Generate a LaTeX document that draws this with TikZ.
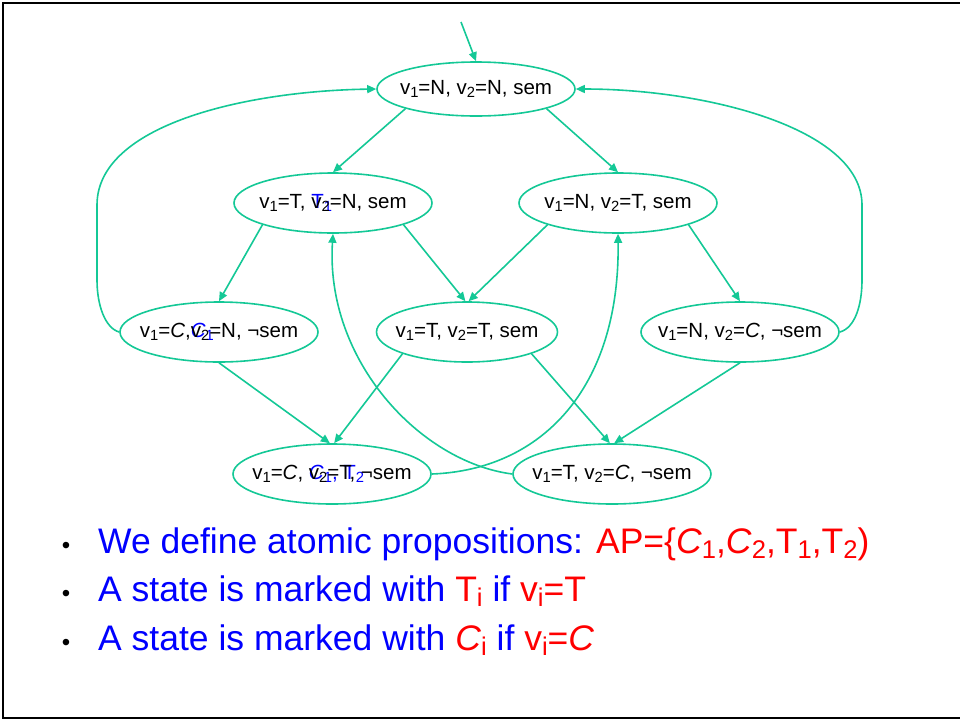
\documentclass[tikz,border=0pt]{standalone}
\usepackage{fontspec}
\setmainfont{Liberation Sans}
\usetikzlibrary{shapes.geometric,arrows.meta}
\definecolor{edgec}{RGB}{20,200,150}
\definecolor{txtblue}{RGB}{0,0,255}
\definecolor{txtred}{RGB}{255,0,0}
\newcommand\lo[1]{\raisebox{-0.3ex}{\scalebox{0.72}{#1}}}
\newcommand\bl[1]{\rlap{\color{txtblue}#1}}
\newcommand\tx[1]{\makebox[0pt][c]{#1}}
\tikzset{
  state/.style={ellipse, draw=edgec, line width=1.6pt, minimum width=198pt, minimum height=60pt, inner sep=0pt, font=\fontsize{20.5}{24}\selectfont},
  edge/.style={draw=edgec, line width=1.6pt, -{Triangle[length=9pt,width=8pt]}},
  bullettext/.style={anchor=base west, inner sep=0pt, font=\fontsize{35.5}{40}\selectfont, text=txtblue},
  dot/.style={anchor=base, inner sep=0pt, font=\fontsize{24}{26}\selectfont}
}
\begin{document}
\begin{tikzpicture}[x=1pt,y=-1pt]
\useasboundingbox (0,0) rectangle (960,721);
\draw[line width=2.2pt] (962,3) -- (3,3) -- (3,718) -- (962,718);

\node[state, minimum height=54pt] (n0) at (476,89) {\tx{v\lo1=N, v\lo2=N, sem}};
\node[state] (n1) at (333,203) {\tx{v\lo1=T, \bl{T\lo1}v\lo2=N, sem}};
\node[state] (n2) at (618,203) {\tx{v\lo1=N, v\lo2=T, sem}};
\node[state] (n3) at (219,332) {\tx{v\lo1=\textit{C},\bl{\textit{C}\lo1}v\lo2=N, ¬sem}};
\node[state, minimum width=181pt] (n4) at (467,332) {\tx{v\lo1=T, v\lo2=T, sem}};
\node[state] (n5) at (740,332) {\tx{v\lo1=N, v\lo2=\textit{C}, ¬sem}};
\node[state] (n6) at (332,474) {\tx{v\lo1=\textit{C}, \bl{\textit{C}\lo1, T\lo2}v\lo2=T, ¬sem}};
\node[state] (n7) at (612,474) {\tx{v\lo1=T, v\lo2=\textit{C}, ¬sem}};

\coordinate (init) at (461,22);
\draw[edge] (init) -- (n0.north);
\draw[edge] (n0.south west) -- (n1.north);
\draw[edge] (n0.south east) -- (n2.north);
\draw[edge] (n1.south west) -- (n3.north);
\draw[edge] (n1.south east) -- (n4.93);
\draw[edge] (n2.south west) -- (n4.87);
\draw[edge] (n2.south east) -- (n5.north);
\draw[edge] (n3.south) -- (n6.94);
\draw[edge] (n4.south west) -- (n6.86);
\draw[edge] (n4.south east) -- (n7.94);
\draw[edge] (n5.south) -- (n7.86);

\draw[edge] (n3.west) .. controls (105,328) and (97,305) .. (97,280)
  -- (97,205) .. controls (97,125) and (245,91) .. (n0.west);
\draw[edge] (n5.east) .. controls (855,328) and (862,305) .. (862,280)
  -- (862,205) .. controls (862,128) and (705,89) .. (n0.east);
\draw[edge] (n6.east) .. controls (540,470) and (620,390) .. (n2.south);
\draw[edge] (n7.west) .. controls (420,462) and (325,360) .. (n1.south);

\node[dot] (b1) at (66,553) {•};
\node[dot] (b2) at (66,601) {•};
\node[dot] (b3) at (66,650) {•};
\node[bullettext] (t1) at (98,553) {We define atomic propositions: \textcolor{txtred}{AP=\{\textit{C}\lo1,\textit{C}\lo2,T\lo1,T\lo2)}};
\node[bullettext] (t2) at (98,601) {A state is marked with \textcolor{txtred}{T\lo{i}} if \textcolor{txtred}{v\lo{i}=T}};
\node[bullettext] (t3) at (98,650) {A state is marked with \textcolor{txtred}{\textit{C}\lo{i}} if \textcolor{txtred}{v\lo{i}=\textit{C}}};
\end{tikzpicture}
\end{document}
